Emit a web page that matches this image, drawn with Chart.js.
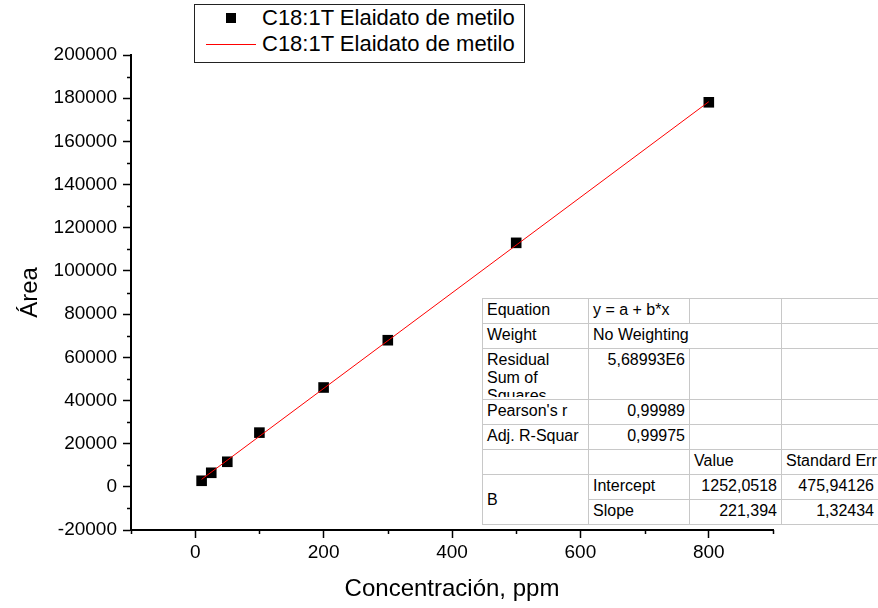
<!DOCTYPE html>
<html>
<head>
<meta charset="utf-8">
<script src="https://cdn.jsdelivr.net/npm/chart.js@4"></script>
<style>
  html, body { margin: 0; padding: 0; background: #fff; overflow: hidden; }
  #wrap { position: relative; width: 878px; height: 608px; font-family: "Liberation Sans", Arial, sans-serif; }
  #legend { position: absolute; left: 194px; top: 4px; width: 329px; height: 57px; border: 1px solid #222; background: #fff; }
  #legend .row { position: absolute; left: 0; height: 26px; line-height: 26px; font-size: 22px; color: #000; white-space: nowrap; }
  #legend .txt { position: absolute; left: 67px; }
  #legend .sq { position: absolute; left: 31px; top: 8px; width: 10px; height: 10px; background: #000; }
  #legend .ln { position: absolute; left: 11px; top: 13px; width: 50px; height: 1px; background: #ff0000; }
  #fit { position: absolute; left: 482px; top: 298px; border-collapse: collapse; table-layout: fixed; width: 410px;
         font-size: 16px; color: #000; background: #fff; border-top: 1px solid #666; border-left: 1px solid #222; border-bottom: 1px solid #222; }
  #fit td { border: 1px solid #c8c8c8; padding: 0 4px; height: 24px; white-space: nowrap; overflow: visible; vertical-align: top; line-height: 22px; }
  #fit td.r { text-align: right; }
  #fit td.nb { border-right: 1px solid #fff; }
  #fit td.nl { border-left: 1px solid #fff; }
  #fit td.mid { vertical-align: middle; }
  #fit .clip { height: 46px; overflow: hidden; line-height: 18px; white-space: normal; width: 90px; }
</style>
</head>
<body>
<div id="wrap">
  <canvas id="chart" width="878" height="608"></canvas>
  <div id="legend">
    <div class="row" style="top:0px"><span class="sq"></span><span class="txt">C18:1T Elaidato de metilo</span></div>
    <div class="row" style="top:26px"><span class="ln"></span><span class="txt">C18:1T Elaidato de metilo</span></div>
  </div>
  <table id="fit">
    <colgroup><col style="width:106px"><col style="width:101px"><col style="width:92px"><col style="width:111px"></colgroup>
    <tr><td>Equation</td><td>y = a + b*x</td><td></td><td></td></tr>
    <tr><td>Weight</td><td class="nb">No Weighting</td><td class="nl"></td><td></td></tr>
    <tr><td style="height:48px;padding-top:2px"><div class="clip">Residual<br>Sum of<br>Squares</div></td><td class="r">5,68993E6</td><td></td><td></td></tr>
    <tr><td>Pearson's r</td><td class="r">0,99989</td><td></td><td></td></tr>
    <tr><td>Adj. R-Squar</td><td class="r">0,99975</td><td></td><td></td></tr>
    <tr><td></td><td></td><td>Value</td><td>Standard Err</td></tr>
    <tr><td rowspan="2" class="mid">B</td><td>Intercept</td><td class="r">1252,0518</td><td class="r" style="padding-right:18px">475,94126</td></tr>
    <tr><td>Slope</td><td class="r">221,394</td><td class="r" style="padding-right:18px">1,32434</td></tr>
  </table>
</div>
<script>
// Data
const concentrations = [10, 25, 50, 100, 200, 300, 500, 800];
const areas = [2800, 6500, 11600, 25100, 46000, 67900, 113000, 178100];

// Linear fit line end points (y = 1252,0518 + 221,394*x)
const fitX = [10, 800];
const fitY = [3466, 178367];

const seriesName = 'C18:1T Elaidato de metilo';
const fontFamily = '"Liberation Sans", Arial, sans-serif';

const pointData = concentrations.map(function (c, i) { return { x: c, y: areas[i] }; });
const fitData = fitX.map(function (c, i) { return { x: c, y: fitY[i] }; });

// Minor ticks: shorter marks for unlabeled steps
const minorTicks = {
    id: 'minorTicks',
    afterDraw: function (chart) {
        const ctx = chart.ctx;
        ctx.save();
        ctx.strokeStyle = '#000';
        ctx.lineWidth = 1.5;
        const xs = chart.scales.x;
        xs.ticks.forEach(function (t) {
            if (t.value % 200 === 0 && t.value >= 0) return;
            const px = Math.round(xs.getPixelForValue(t.value)) + 0.5;
            ctx.beginPath();
            ctx.moveTo(px, xs.top);
            ctx.lineTo(px, xs.top + 4);
            ctx.stroke();
        });
        const ys = chart.scales.y;
        ys.ticks.forEach(function (t) {
            if (t.value % 20000 === 0) return;
            const py = Math.round(ys.getPixelForValue(t.value)) + 0.5;
            ctx.beginPath();
            ctx.moveTo(ys.right, py);
            ctx.lineTo(ys.right - 4, py);
            ctx.stroke();
        });
        ctx.restore();
    }
};

new Chart(document.getElementById('chart'), {
    type: 'scatter',
    data: {
        datasets: [
            {
                type: 'line',
                label: seriesName,
                data: fitData,
                borderColor: '#ff0000',
                borderWidth: 1,
                pointRadius: 0,
                fill: false,
                order: 0
            },
            {
                label: seriesName,
                data: pointData,
                pointStyle: 'rect',
                pointRadius: 7.5,
                backgroundColor: '#000',
                borderColor: '#000',
                borderWidth: 0,
                order: 1
            }
        ]
    },
    options: {
        responsive: false,
        animation: false,
        devicePixelRatio: 1,
        layout: { padding: { top: 55, right: 105, left: 0, bottom: 0 } },
        plugins: {
            legend: { display: false },
            tooltip: { enabled: false }
        },
        scales: {
            x: {
                type: 'linear',
                min: -100,
                max: 900,
                afterFit: function (scale) { scale.height = 78; },
                border: { display: true, color: '#000', width: 2 },
                grid: {
                    drawOnChartArea: false,
                    tickLength: 8,
                    tickWidth: 1.5,
                    tickColor: function (c) {
                        return (c.tick && c.tick.value % 200 === 0 && c.tick.value >= 0) ? '#000' : 'rgba(0,0,0,0)';
                    }
                },
                ticks: {
                    stepSize: 100,
                    autoSkip: false,
                    maxRotation: 0,
                    padding: 3,
                    color: '#000',
                    font: { family: fontFamily, size: 19 },
                    callback: function (v) { return (v % 200 === 0 && v >= 0) ? v : ''; }
                },
                title: {
                    display: true,
                    text: 'Concentración, ppm',
                    color: '#000',
                    font: { family: fontFamily, size: 24 },
                    padding: { top: 0, bottom: 4 }
                }
            },
            y: {
                type: 'linear',
                min: -20000,
                max: 200000,
                afterFit: function (scale) { scale.width = 131; },
                border: { display: true, color: '#000', width: 2 },
                grid: {
                    drawOnChartArea: false,
                    tickLength: 8,
                    tickWidth: 1.5,
                    tickColor: function (c) {
                        return (c.tick && c.tick.value % 20000 === 0) ? '#000' : 'rgba(0,0,0,0)';
                    }
                },
                ticks: {
                    stepSize: 10000,
                    autoSkip: false,
                    padding: 6,
                    color: '#000',
                    font: { family: fontFamily, size: 19 },
                    callback: function (v) { return v % 20000 === 0 ? v : ''; }
                },
                title: {
                    display: true,
                    text: 'Área',
                    color: '#000',
                    font: { family: fontFamily, size: 24 },
                    padding: { top: 16, bottom: 0 }
                }
            }
        }
    },
    plugins: [minorTicks]
});
</script>
</body>
</html>
